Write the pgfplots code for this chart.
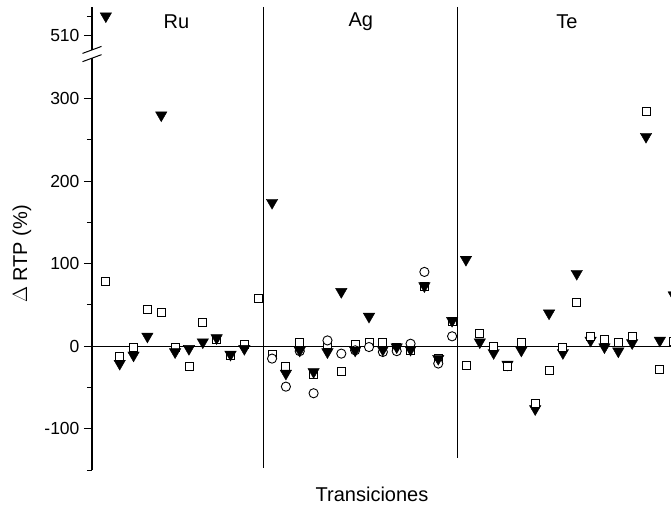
\documentclass[border=0pt]{standalone}
\usepackage{fontspec}
\setmainfont{Liberation Sans}
\usepackage{pgfplots}
\pgfplotsset{compat=1.18}
\begin{document}
\begin{tikzpicture}[font=\fontsize{20}{24}\selectfont]
\useasboundingbox (-92pt,-37pt) rectangle (579pt,470pt);
\begin{axis}[at={(0pt,0pt)}, anchor=south west, scale only axis, width=582.4pt, height=463pt,
 xmin=-1, xmax=41.05, ymin=-150, ymax=411,
 axis x line=none, axis y line=left, axis line style={-, line width=1.2pt},
 ytick={-100,0,100,200,300,377}, yticklabels={-100,0,100,200,300,510},
 minor ytick={-150,-50,50,150,250,399},
 tick align=outside, major tick length=8pt, minor tick length=5pt,
 tick style={line width=1pt, black},
 yticklabel style={font=\fontsize{17.5}{21}\selectfont, xshift=-1pt},
 clip=true]
\draw[line width=0.9pt] (axis cs:-1,0) -- (axis cs:41.05,0);
\draw[line width=1pt] (axis cs:11.41,411) -- (axis cs:11.41,-147);
\draw[line width=1pt] (axis cs:25.42,411) -- (axis cs:25.42,-136);
\node at (axis cs:5.09,393) {Ru};
\node at (axis cs:18.41,393) {Ag};
\node at (axis cs:33.29,393) {Te};
\coordinate (b1) at (axis cs:-1,359);
\coordinate (b2) at (axis cs:-1,349);
% Ru + Ag squares
\addplot[only marks, mark=square*, mark size=4pt, mark options={fill=white, draw=black, line width=0.9pt}] coordinates {
(0,78)(1,-13)(2,-2)(3,45)(4,41)(5,-1)(6,-25)(7,29)(8,8)(9,-11)(10,2)(11,58)
(12,-10)(13,-25)(14,5)(15,-34)(16,2)(17,-30)(18,2)(19,4)(20,4)(21,-1)(22,-5)(23,72)(24,-15)(25,30)};
% Ag circles
\addplot[only marks, mark=*, mark size=4.6pt, mark options={fill=white, draw=black, line width=0.9pt}] coordinates {
(12,-15)(13,-49)(14,-6)(15,-57)(16,7)(17,-9)(18,-5)(19,-1)(20,-7)(21,-6)(22,3)(23,90)(24,-21)(25,12)};
% Ru + Ag triangles
\addplot[only marks, mark=triangle*, mark size=6.6pt, mark options={rotate=180, fill=black, draw=black}] coordinates {
(0,400)(1,-21)(2,-11)(3,12)(4,280)(5,-7)(6,-3)(7,5)(8,10)(9,-10)(10,-3)
(12,174)(13,-33)(14,-5)(15,-31)(16,-7)(17,66)(18,-5)(19,36)(20,-4)(21,-1)(22,-4)(23,73)(24,-15)(25,31)};
% Te triangles
\addplot[only marks, mark=triangle*, mark size=6.6pt, mark options={rotate=180, fill=black, draw=black}] coordinates {
(26,105)(27,5)(28,-8)(29,-22)(30,-5)(31,-76)(32,40)(33,-8)(34,88)(35,7)(36,-1)(37,-6)(38,4)(39,254)(40,7)(41,62)};
% Te squares
\addplot[only marks, mark=square*, mark size=4pt, mark options={fill=white, draw=black, line width=0.9pt}] coordinates {
(26,-23)(27,15)(28,0)(29,-24)(30,5)(31,-69)(32,-29)(33,-1)(34,53)(35,12)(36,8)(37,4)(38,12)(39,285)(40,-28)(41,6)};
\end{axis}
\fill[white] ([xshift=-3pt]b2) rectangle ([xshift=3pt]b1);
\draw[line width=1pt] ([xshift=-9.5pt,yshift=-3.5pt]b1) -- ([xshift=9.5pt,yshift=3.5pt]b1);
\draw[line width=1pt] ([xshift=-9.5pt,yshift=-3.5pt]b2) -- ([xshift=9.5pt,yshift=3.5pt]b2);
\node[rotate=90] at (-70pt,216pt) {$\Delta$ RTP (\%)};
\node at (280pt,-24pt) {Transiciones};
\end{tikzpicture}
\end{document}
